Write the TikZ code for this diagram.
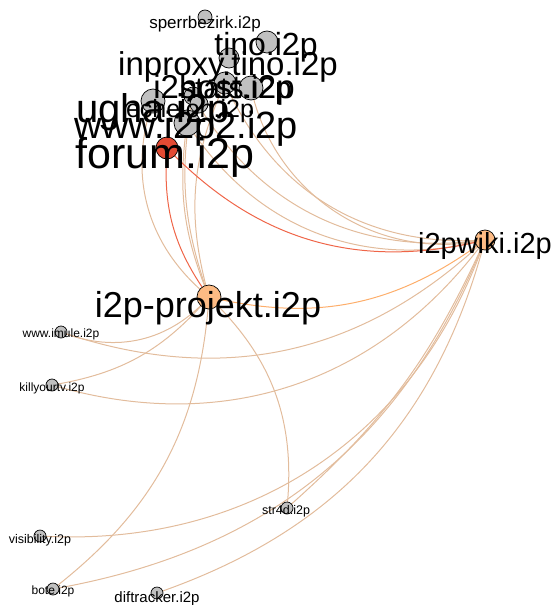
\documentclass[tikz,border=0pt]{standalone}
\usepackage{fontspec}
\setmainfont{Liberation Sans}
\usepackage{xcolor}
\definecolor{edgetan}{RGB}{226,188,156}
\definecolor{edgered}{RGB}{239,101,72}
\definecolor{edgeorange}{RGB}{253,174,107}
\definecolor{dotgray}{RGB}{192,192,192}
\definecolor{dotred}{RGB}{227,74,51}
\definecolor{dotorange}{RGB}{253,187,132}
\tikzset{
  dot/.style={circle, draw=black, line width=0.7pt, inner sep=0pt, fill=dotgray, minimum size=#1},
  lab/.style={font=\fontsize{#1}{#1}\selectfont, inner sep=0pt, anchor=base},
  link/.style={edgetan, line width=1pt}
}

\begin{document}
\begin{tikzpicture}[x=1pt, y=-1pt]
  \useasboundingbox (0,0) rectangle (556,605);
  % node centres
  \coordinate (sperr) at (205,17);
  \coordinate (tino) at (267,42);
  \coordinate (inproxy) at (229,58);
  \coordinate (ihost) at (225,83);
  \coordinate (stats) at (251,88);
  \coordinate (ugha) at (153,101);
  \coordinate (echelon) at (193,96);
  \coordinate (dotb) at (199,104);
  \coordinate (www) at (187,123);
  \coordinate (forum) at (167,148);
  \coordinate (wiki) at (485,240);
  \coordinate (projekt) at (209,297);
  \coordinate (imule) at (61,332);
  \coordinate (killy) at (52,385);
  \coordinate (visib) at (40,536);
  \coordinate (str4d) at (287,508);
  \coordinate (bote) at (53,589);
  \coordinate (diftr) at (157,593);

         \draw[link] (www) to[bend right=36] (wiki);        % cluster -> wiki
         \draw[link] (echelon) to[bend right=34] (wiki);
         \draw[link] (ihost) to[bend right=35] (wiki);
         \draw[link] (stats) to[bend right=45] (wiki);
         \draw[link] (ugha) to[bend right=35] (projekt);    % cluster -> projekt
         \draw[link] (www) to[bend right=15] (projekt);
         \draw[link] (echelon) to[bend right=15] (projekt);
         \draw[link] (ihost) to[bend right=20] (projekt);

         \draw[link] (imule) to[bend right=35] (projekt);   % leaves
         \draw[link] (imule) to[bend right=31] (wiki);
         \draw[link] (killy) to[bend right=20] (projekt);
         \draw[link] (killy) to[bend right=35] (wiki);
         \draw[link] (visib) to[bend right=37] (wiki);
         \draw[link] (bote) to[bend right=24] (projekt);
         \draw[link] (bote) to[bend right=29] (wiki);
         \draw[link] (diftr) to[bend right=28] (wiki);
         \draw[link] (str4d) to[bend right=26] (projekt);
         \draw[link] (str4d) to[bend right=12] (wiki);

	\draw[edgeorange, line width=1pt] (projekt) to[bend right=25] (wiki);
	\draw[edgered, line width=1pt] (forum) to[bend right=30] (wiki);
	\draw[edgered, line width=1pt] (forum) to[bend right=20] (projekt);

        % dots
        \node[dot=14] (sperrdot) at (sperr) {};
        \node[dot=22] (tinodot) at (tino) {};
        \node[dot=20] (inproxydot) at (inproxy) {};
        \node[dot=22] (ihostdot) at (ihost) {};
        \node[dot=24] (statsdot) at (stats) {};
        \node[dot=24] (ughadot) at (ugha) {};
        \node[dot=18] (echelondot) at (echelon) {};
        \node[dot=18] (dotbdot) at (dotb) {};
        \node[dot=26] (wwwdot) at (www) {};
        \node[dot=22, fill=dotred] (forumdot) at (forum) {};
        \node[dot=20, fill=dotorange] (wikidot) at (wiki) {};
        \node[dot=24, fill=dotorange] (projektdot) at (projekt) {};
        \node[dot=12] (imuledot) at (imule) {};
        \node[dot=12] (killydot) at (killy) {};
        \node[dot=12] (visibdot) at (visib) {};
        \node[dot=12] (str4ddot) at (str4d) {};
        \node[dot=12] (botedot) at (bote) {};
        \node[dot=12] (diftrdot) at (diftr) {};

        % labels
        \node[lab=17] (sperrlab) at (205,28) {sperrbezirk.i2p};
        \node[lab=32] (tinolab) at (266,55) {tino.i2p};
        \node[lab=33] (inproxylab) at (228,75) {inproxy.tino.i2p};
        \node[lab=33] (ihostlab) at (224,98) {i2host.i2p};
        \node[lab=30] (statslab) at (236,98) {stats.i2p};
        \node[lab=40] (ughalab) at (153,122) {ugha.i2p};
        \node[lab=25] (echelonlab) at (190,117) {echelon.i2p};
        \node[lab=38] (wwwlab) at (186,138) {www.i2p2.i2p};
        \node[lab=43] (forumlab) at (165,168) {forum.i2p};
        \node[lab=29] (wikilab) at (485,253) {i2pwiki.i2p};
        \node[lab=36] (projektlab) at (208,317) {i2p-projekt.i2p};
        \node[lab=12] (imulelab) at (61,337) {www.imule.i2p};
        \node[lab=12] (killylab) at (52,391) {killyourtv.i2p};
        \node[lab=12.5] (visiblab) at (40,543) {visibility.i2p};
        \node[lab=12.5] (str4dlab) at (286,514) {str4d.i2p};
        \node[lab=12] (botelab) at (53,594) {bote.i2p};
        \node[lab=15] (diftrlab) at (157,602) {diftracker.i2p};

\end{tikzpicture}
\end{document}
